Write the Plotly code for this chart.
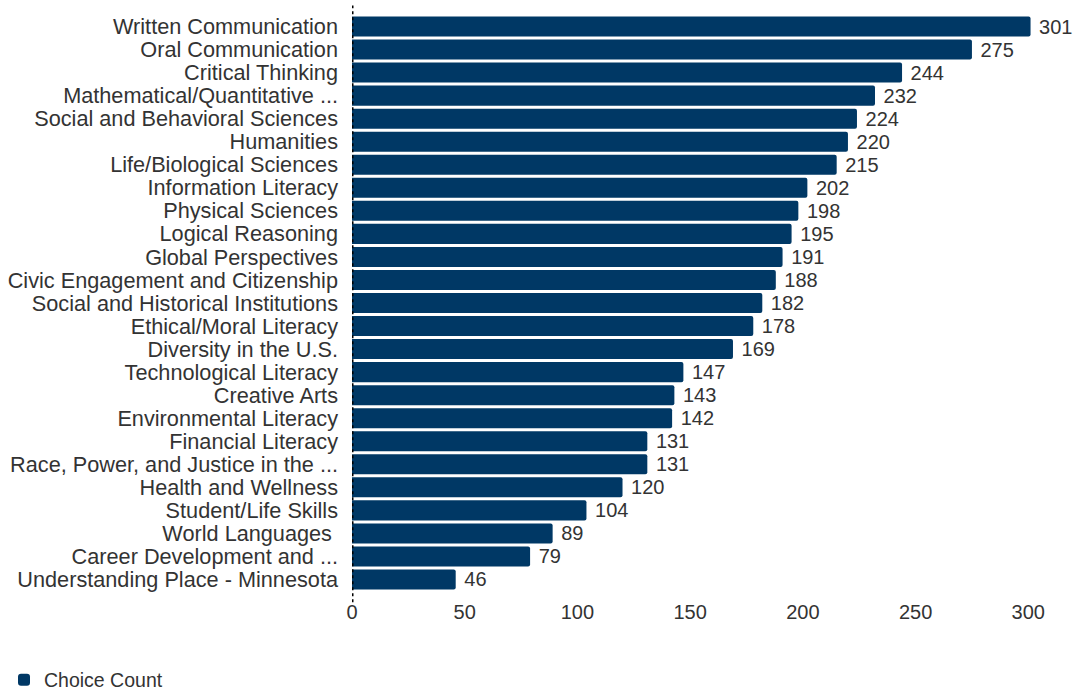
import plotly.graph_objects as go

categories = [
    "Written Communication", "Oral Communication", "Critical Thinking",
    "Mathematical/Quantitative ...", "Social and Behavioral Sciences", "Humanities",
    "Life/Biological Sciences", "Information Literacy", "Physical Sciences",
    "Logical Reasoning", "Global Perspectives", "Civic Engagement and Citizenship",
    "Social and Historical Institutions", "Ethical/Moral Literacy", "Diversity in the U.S.",
    "Technological Literacy", "Creative Arts", "Environmental Literacy",
    "Financial Literacy", "Race, Power, and Justice in the ...", "Health and Wellness",
    "Student/Life Skills", "World Languages&nbsp;", "Career Development and ...",
    "Understanding Place - Minnesota",
]
counts = [301, 275, 244, 232, 224, 220, 215, 202, 198, 195, 191, 188, 182, 178, 169,
          147, 143, 142, 131, 131, 120, 104, 89, 79, 46]
x_ticks = [0, 50, 100, 150, 200, 250, 300]

FONT = "Liberation Sans, Arial, sans-serif"
BAR = "#003865"
TXT = "#333333"

fig = go.Figure(go.Bar(
    y=categories, x=counts, orientation="h", name="Choice Count",
    marker=dict(color=BAR, cornerradius=2, line=dict(width=0)),
    text=counts, texttemplate="&nbsp;%{x}", textposition="outside", cliponaxis=False,
    constraintext="none",
    textfont=dict(family=FONT, size=20, color=TXT),
    showlegend=True,
))

fig.update_layout(
    width=1079, height=690,
    margin=dict(l=352, r=9, t=15, b=99, autoexpand=False),
    plot_bgcolor="white", paper_bgcolor="white",
    bargap=0.13,
    font=dict(family=FONT, size=20, color=TXT),
    xaxis=dict(range=[0, 318.5], tickvals=x_ticks, showgrid=False, zeroline=False,
               showline=False, ticks="", ticklabelstandoff=7, automargin=False,
               tickfont=dict(family=FONT, size=20, color=TXT)),
    yaxis=dict(autorange="reversed", showgrid=False, zeroline=False, showline=False,
               tickmode="array", tickvals=categories, ticktext=categories,
               ticks="", ticklabelstandoff=13, automargin=False,
               tickfont=dict(family=FONT, size=21.7, color=TXT)),
    legend=dict(orientation="h", xref="container", yref="container",
                x=4 / 1079, xanchor="left", y=10 / 690, yanchor="middle",
                font=dict(family=FONT, size=19.5, color=TXT)),
    shapes=[dict(type="line", xref="x", yref="paper", x0=0, x1=0, y0=-0.0195, y1=1.0165,
                 layer="above", line=dict(color="black", width=3, dash="3px,3px"))],
)

fig.write_html("out.html", config={"displayModeBar": False},
               post_script="document.body.style.margin='0';")
